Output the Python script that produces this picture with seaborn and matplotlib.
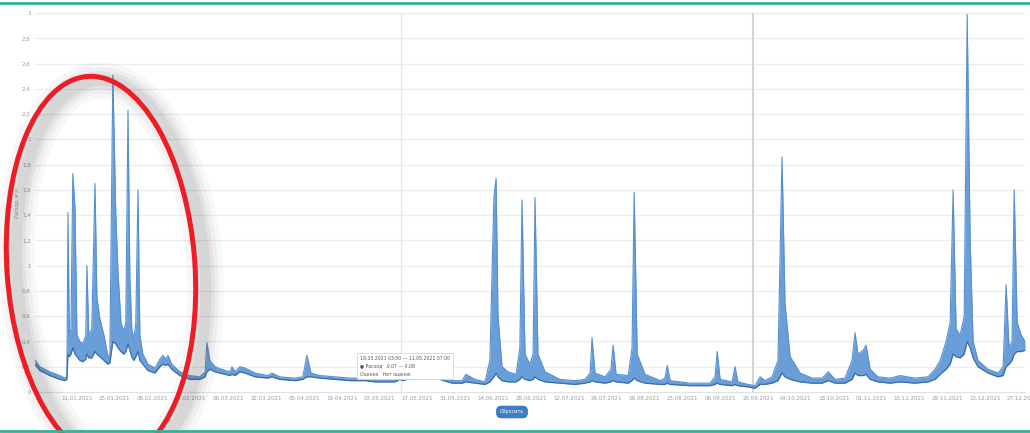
import numpy as np
import pandas as pd
import matplotlib
matplotlib.use("Agg")
import matplotlib.pyplot as plt
from matplotlib.patches import Ellipse
from matplotlib.lines import Line2D
import seaborn as sns

# days from 01.01.2021, daily min (low) and max (high) discharge
days = [-5.5, -3.7, 0, 3.7, 5.5, 6.3, 6.7, 7.2, 7.8, 8.5, 9.3, 10, 11.1, 12.2, 13.3, 13.7,
        14.4, 15.5, 16.7, 17.4, 18.5, 20, 21.5, 22.2, 23.3, 24.4, 25.2, 26.3, 27.4, 28.1,
        28.9, 29.6, 30.3, 31.1, 31.8, 32.6, 33.3, 34.4, 36.3, 38.9, 40.7, 41.8, 42.9, 43.7,
        45.1, 48.1, 51.8, 55.5, 57.4, 58.1, 59.2, 61.1, 64.8, 66.6, 67.4, 68.5, 70.3, 72.2,
        75.9, 80.7, 82.2, 85.1, 90.7, 93.6, 95.1, 96.6, 99.9, 105.5, 111, 116.6, 120.3, 124,
        127.7, 129.5, 130.6, 132.1, 133.6, 135.1, 138.8, 140.6, 144.3, 148.8, 152.5, 153.9,
        157.3, 161, 162.8, 164.3, 165.1, 165.8, 167.3, 169.5, 172.5, 173.9, 174.7, 175.8,
        177.6, 178.8, 179.5, 180.6, 183.2, 188.7, 194.3, 198, 199.9, 200.6, 201.7, 205.4,
        207.6, 208.4, 209.5, 214, 215.4, 216.2, 217.3, 220.2, 225.8, 227.6, 228.4, 229.5,
        236.9, 244.3, 246.1, 246.9, 248, 252.4, 253.5, 254.6, 258.3, 260.9, 262.8, 264.6,
        267.2, 269.4, 270.9, 272, 273.9, 277.6, 282, 285.7, 288, 290.5, 294.2, 296.8, 297.9,
        299, 300.9, 302, 303.5, 306.4, 310.9, 314.6, 320.1, 324.9, 327.5, 329.4, 331.6, 333.1,
        334.2, 335.3, 336.8, 338.3, 339.4, 340.5, 341.6, 343.4, 347.1, 350.8, 352.7, 353.8,
        354.9, 356, 356.8, 357.9, 359.4, 360.8]
high = [0.25, 0.20, 0.16, 0.13, 0.11, 0.12, 1.42, 0.45, 0.50, 1.73, 1.45, 0.45, 0.40, 0.38, 0.45, 1.00,
        0.45, 0.50, 1.65, 0.75, 0.58, 0.45, 0.28, 0.30, 2.51, 1.40, 0.95, 0.55, 0.48, 0.55,
        2.23, 0.90, 0.50, 0.42, 0.55, 1.60, 0.45, 0.30, 0.22, 0.19, 0.26, 0.29, 0.26, 0.29,
        0.22, 0.16, 0.13, 0.12, 0.16, 0.39, 0.25, 0.20, 0.17, 0.16, 0.20, 0.16, 0.20, 0.19,
        0.15, 0.13, 0.15, 0.12, 0.11, 0.12, 0.29, 0.15, 0.13, 0.12, 0.11, 0.11, 0.10, 0.11,
        0.10, 0.18, 0.12, 0.17, 0.13, 0.16, 0.19, 0.15, 0.13, 0.09, 0.09, 0.14,
        0.10, 0.08, 0.25, 1.55, 1.69, 0.60, 0.20, 0.16, 0.14, 0.35, 1.52, 0.30,
        0.22, 0.30, 1.54, 0.30, 0.16, 0.10, 0.09, 0.10, 0.15, 0.43, 0.15, 0.12,
        0.18, 0.37, 0.14, 0.13, 0.35, 1.58, 0.30, 0.14, 0.09, 0.11, 0.21, 0.09,
        0.07, 0.07, 0.12, 0.32, 0.10, 0.08, 0.20, 0.08, 0.06, 0.05, 0.12, 0.09,
        0.12, 0.25, 1.86, 0.70, 0.28, 0.15, 0.11, 0.11, 0.16, 0.10, 0.11, 0.25, 0.47,
        0.30, 0.33, 0.37, 0.18, 0.12, 0.11, 0.13, 0.11, 0.12, 0.18, 0.25, 0.40, 0.55,
        1.60, 0.50, 0.45, 0.60, 2.99, 1.20, 0.40, 0.25, 0.18, 0.15, 0.20, 0.85,
        0.35, 0.40, 1.60, 0.55, 0.45, 0.40]
low = [0.22, 0.17, 0.13, 0.10, 0.09, 0.10, 0.30, 0.28, 0.30, 0.35, 0.30, 0.28, 0.25, 0.24, 0.26, 0.30,
       0.27, 0.27, 0.32, 0.30, 0.28, 0.25, 0.22, 0.23, 0.40, 0.38, 0.35, 0.32, 0.30, 0.32,
       0.38, 0.33, 0.28, 0.25, 0.28, 0.32, 0.25, 0.22, 0.17, 0.15, 0.20, 0.22, 0.21, 0.22,
       0.18, 0.13, 0.10, 0.10, 0.12, 0.16, 0.18, 0.16, 0.14, 0.13, 0.14, 0.13, 0.16, 0.15,
       0.12, 0.11, 0.12, 0.10, 0.09, 0.10, 0.12, 0.12, 0.11, 0.10, 0.09, 0.09, 0.08, 0.08,
       0.08, 0.10, 0.09, 0.10, 0.10, 0.11, 0.14, 0.12, 0.10, 0.07, 0.07, 0.08,
       0.07, 0.06, 0.08, 0.12, 0.15, 0.12, 0.09, 0.08, 0.08, 0.10, 0.12, 0.10,
       0.09, 0.10, 0.12, 0.10, 0.08, 0.07, 0.06, 0.07, 0.08, 0.09, 0.08, 0.07,
       0.08, 0.09, 0.08, 0.07, 0.09, 0.11, 0.09, 0.07, 0.06, 0.06, 0.07, 0.06,
       0.05, 0.05, 0.06, 0.07, 0.06, 0.05, 0.06, 0.05, 0.04, 0.03, 0.06, 0.06,
       0.07, 0.09, 0.15, 0.12, 0.10, 0.08, 0.07, 0.07, 0.09, 0.07, 0.07, 0.10, 0.15,
       0.13, 0.13, 0.14, 0.10, 0.08, 0.07, 0.08, 0.07, 0.08, 0.10, 0.14, 0.18, 0.22,
       0.30, 0.28, 0.27, 0.30, 0.40, 0.35, 0.27, 0.20, 0.15, 0.12, 0.13, 0.20,
       0.22, 0.25, 0.30, 0.32, 0.32, 0.33]

yticks = [0, 0.2, 0.4, 0.6, 0.8, 1, 1.2, 1.4, 1.6, 1.8, 2, 2.2, 2.4, 2.6, 2.8, 3]
first_label = "2021-01-11"
n_labels = 26
crosshair_dates = ["2021-05-11", "2021-09-18"]
tooltip_lines = ["18.03.2021 03:00 — 11.05.2021 07:00",
                 "● Расход   0,07 — 0,08",
                 "Оценка   Нет оценок"]

start = pd.Timestamp("2021-01-01")
dates = start + pd.to_timedelta(days, unit="D")
df = pd.DataFrame({"date": dates, "low": low, "high": high})

sns.set_style("white")
fig = plt.figure(figsize=(10.30, 4.33), dpi=100)
ax = fig.add_axes([35 / 1030, 41 / 433, 990 / 1030, 379 / 433])

ax.fill_between(df["date"], df["low"], df["high"], color="#6a9ed9", lw=0, zorder=2)
sns.lineplot(data=df, x="date", y="high", ax=ax, color="#5590d2", lw=0.8, zorder=3)
sns.lineplot(data=df, x="date", y="low", ax=ax, color="#3a6ca8", lw=0.9, zorder=4)

ax.axvline(pd.Timestamp(crosshair_dates[0]), color="#e6e6e6", lw=1.0, zorder=1)
ax.axvline(pd.Timestamp(crosshair_dates[1]), color="#d4d4d4", lw=1.5, zorder=1)

ax.set_ylim(0, 3)
ax.set_xlim(df["date"].min(), df["date"].max())
ax.set_yticks(yticks)
ax.set_yticklabels([("%g" % v).replace(".", ",") for v in yticks])
ax.yaxis.grid(True, color="#ececec", lw=0.8)
ax.set_axisbelow(True)

xt = pd.date_range(first_label, periods=n_labels, freq="14D")
ax.set_xticks(xt)
ax.set_xticklabels([t.strftime("%d.%m.%Y") for t in xt])
ax.tick_params(axis="both", labelsize=4, colors="#9a9a9a", length=0, pad=3)
ax.set_xlabel("")
ax.set_ylabel("Расход, м³/с", fontsize=3.5, color="#9a9a9a", labelpad=2)
for s in ["top", "right", "left"]:
    ax.spines[s].set_visible(False)
ax.spines["bottom"].set_color("#e0e0e0")
ax.spines["bottom"].set_linewidth(0.8)

# tooltip
fig.text(360 / 1030, 1 - 356 / 433, "\n".join(tooltip_lines), fontsize=3.3, color="#555555",
         va="top", ha="left", linespacing=1.6,
         bbox=dict(boxstyle="square,pad=0.6", fc="white", ec="#d6d6d6", lw=0.6))

# reset button
fig.text(512 / 1030, 1 - 412 / 433, "Сбросить", fontsize=3.5, color="white", ha="center", va="center",
         bbox=dict(boxstyle="round,pad=0.7,rounding_size=1.0", fc="#3d7fc6", ec="#2f6db0", lw=0.5))

# overlay in pixel coordinates for frame and annotation
ov = fig.add_axes([0, 0, 1, 1], zorder=10)
ov.set_xlim(0, 1030)
ov.set_ylim(433, 0)
ov.axis("off")
ov.patch.set_alpha(0)
for lw, a in [(26, 0.04), (19, 0.05), (13, 0.07), (8, 0.08)]:
    ov.add_patch(Ellipse((111, 272), 188, 384, angle=-4, fill=False, ec="#4a4a4a", lw=lw, alpha=a))
ov.add_patch(Ellipse((101, 268), 188, 384, angle=-4, fill=False, ec="#ee1c24", lw=3.6))
ov.add_line(Line2D([0, 1030], [2.5, 2.5], color="#35b09a", lw=2))
ov.add_line(Line2D([0, 1030], [430.5, 430.5], color="#35b09a", lw=2))

fig.savefig("out.png", dpi=100)
